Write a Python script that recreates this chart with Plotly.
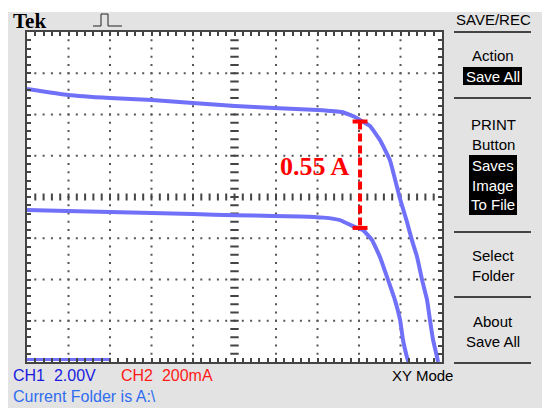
import plotly.graph_objects as go
import numpy as np

# XY mode: CH1 (voltage, 2.00 V/div) on x, CH2 (current, 200 mA/div) on y
upper_v = [0.0, 1.98, 4.0, 6.02, 8.0, 10.02, 11.9, 14.02, 15.18, 15.81, 16.15, 16.53,
           17.01, 17.49, 17.98, 18.31, 18.55, 18.80, 19.04, 19.28, 19.42, 19.57, 19.76, 19.81]
upper_a = [1.324, 1.295, 1.28, 1.27, 1.256, 1.241, 1.231, 1.222, 1.212, 1.188, 1.168, 1.144,
           1.076, 0.979, 0.79, 0.68, 0.591, 0.509, 0.398, 0.301, 0.204, 0.107, 0.024, 0.0]

lower_v = [0.0, 1.93, 4.0, 6.02, 8.0, 10.02, 11.86, 13.16, 14.3, 15.08, 15.71, 16.19,
           16.63, 17.01, 17.40, 17.73, 17.98, 18.12, 18.31, 18.38]
lower_a = [0.737, 0.732, 0.727, 0.722, 0.717, 0.712, 0.708, 0.706, 0.70, 0.688, 0.659, 0.640,
           0.591, 0.509, 0.398, 0.301, 0.204, 0.107, 0.024, 0.0]

baseline_v = [0.0, 4.0]
baseline_a = [0.012, 0.012]

# the red 0.55 A marker between the two curves
marker_v = [16.05]
marker_top = [1.166]
marker_bottom = [0.650]
marker_label = "0.55 A"

V_DIV, A_DIV = 2.0, 0.2
X_MAX, Y_MAX = 10 * V_DIV, 8 * A_DIV

# plot area in pixels: x 27..442, y 32..362
L, T, W, H = 27, 32, 415, 330


def fx(px):
    return (px - L) / W


def fy(py):
    return (T + H - py) / H


fig = go.Figure()

# graticule dots / centre ticks
x_minor = np.linspace(0, X_MAX, 51)
y_minor = np.linspace(0, Y_MAX, 41)
dots_x, dots_y = [], []
for k in range(1, 8):
    if k == 4:
        continue
    dots_x += list(x_minor[1:-1])
    dots_y += [k * A_DIV] * 49
for k in range(1, 10):
    if k == 5:
        continue
    dots_x += [k * V_DIV] * 39
    dots_y += list(y_minor[1:-1])
fig.add_trace(go.Scatter(x=dots_x, y=dots_y, mode="markers", hoverinfo="skip",
                         marker=dict(symbol="square", size=2, color="#555555")))
fig.add_trace(go.Scatter(x=x_minor[1:-1], y=[4 * A_DIV] * 49, mode="markers", hoverinfo="skip",
                         marker=dict(symbol="line-ns", size=5, line=dict(width=2, color="#444444"))))
fig.add_trace(go.Scatter(x=[5 * V_DIV] * 39, y=y_minor[1:-1], mode="markers", hoverinfo="skip",
                         marker=dict(symbol="line-ew", size=6, line=dict(width=2, color="#444444"))))

trace_color = "#7070f8"
fig.add_trace(go.Scatter(x=baseline_v, y=baseline_a, mode="lines",
                         line=dict(color=trace_color, width=3)))
for xs, ys in [(upper_v, upper_a), (lower_v, lower_a)]:
    fig.add_trace(go.Scatter(x=xs, y=ys, mode="lines",
                             line=dict(color=trace_color, width=4, shape="spline", smoothing=0.3)))

# red measurement marker
fig.add_trace(go.Scatter(x=marker_v * 2, y=marker_top + marker_bottom, mode="lines",
                         line=dict(color="#ff0000", width=4, dash="8px,4px")))
for yv in marker_top + marker_bottom:
    fig.add_trace(go.Scatter(x=[marker_v[0] - 0.36, marker_v[0] + 0.36], y=[yv, yv], mode="lines",
                             line=dict(color="#ff0000", width=4)))

shapes = [
    dict(type="rect", xref="paper", yref="paper", x0=fx(8), x1=fx(542), y0=fy(12), y1=fy(408),
         fillcolor="#e3e3e3", line_width=0, layer="below"),
    dict(type="rect", xref="paper", yref="paper", x0=0, x1=1, y0=0, y1=1,
         fillcolor="white", line_width=0, layer="below"),
    # trigger icon
    dict(type="path", xref="paper", yref="paper", line=dict(color="#222222", width=1),
         path="M{},{} L{},{} L{},{} L{},{} L{},{} L{},{}".format(
             fx(93), fy(26), fx(101), fy(26), fx(101), fy(14), fx(108), fy(14),
             fx(108), fy(26), fx(122), fy(26))),
    # inverted menu boxes
    dict(type="rect", xref="paper", yref="paper", x0=fx(463), x1=fx(522), y0=fy(67), y1=fy(85),
         fillcolor="black", line_width=0),
    dict(type="rect", xref="paper", yref="paper", x0=fx(469), x1=fx(517), y0=fy(155), y1=fy(215),
         fillcolor="black", line_width=0),
]
for yy in [32, 98, 232, 297, 363]:
    shapes.append(dict(type="line", xref="paper", yref="paper", x0=fx(454), x1=fx(531),
                       y0=fy(yy), y1=fy(yy), line=dict(color="#444444", width=2)))

narrow = "Liberation Sans Narrow, Arial Narrow, Liberation Sans, sans-serif"
annotations = []


def label(text, px, py, size=15, color="black", family=narrow, xanchor="center", bold=False):
    annotations.append(dict(text="<b>%s</b>" % text if bold else text,
                            x=fx(px), y=fy(py), xref="paper", yref="paper",
                            xanchor=xanchor, yanchor="middle", showarrow=False,
                            font=dict(family=family, size=size, color=color)))


label("Tek", 11, 21, size=21, family="Liberation Serif, serif", xanchor="left", bold=True)
label("SAVE/REC", 493, 19)
label("Action", 493, 55)
label("Save All", 493, 76, color="white")
label("PRINT", 493, 124)
label("Button", 493, 144)
label("Saves", 493, 165, color="white")
label("Image", 493, 185, color="white")
label("To File", 493, 205, color="white")
label("Select", 493, 256)
label("Folder", 493, 275)
label("About", 493, 321)
label("Save All", 493, 341)
label("XY Mode", 422, 375)
label("CH1  2.00V", 11, 375, size=16, color="#1a1ae0", xanchor="left")
label("CH2  200mA", 119, 375, size=16, color="#ff1a1a", xanchor="left")
label("Current Folder is A:\\", 11, 397, size=16, color="#2f6df0", xanchor="left")
annotations.append(dict(text="<b>%s</b>" % marker_label, x=15.65, y=0.95, xref="x", yref="y",
                        xanchor="right", yanchor="middle", showarrow=False,
                        font=dict(family="Liberation Serif, serif", size=26, color="#ff0000")))

axis_common = dict(showticklabels=False, zeroline=False, showgrid=False,
                   showline=True, linewidth=2, linecolor="#444444", mirror="ticks",
                   ticks="inside", ticklen=4, tickwidth=1.5, tickcolor="#444444")
fig.update_layout(
    width=550, height=420,
    margin=dict(l=L, r=550 - L - W, t=T, b=420 - T - H),
    paper_bgcolor="white", plot_bgcolor="white",
    showlegend=False,
    xaxis=dict(range=[0, X_MAX], dtick=V_DIV,
               minor=dict(dtick=V_DIV / 5, ticks="inside", ticklen=4, tickwidth=1.5,
                          tickcolor="#444444"), **axis_common),
    yaxis=dict(range=[0, Y_MAX], dtick=A_DIV,
               minor=dict(dtick=A_DIV / 5, ticks="inside", ticklen=4, tickwidth=1.5,
                          tickcolor="#444444"), **axis_common),
    shapes=shapes,
    annotations=annotations,
)

# the page's default 8px body margin would push the screen off the window
fig.write_html("out.html", config={"displayModeBar": False},
               post_script="document.body.style.margin = '0';")
